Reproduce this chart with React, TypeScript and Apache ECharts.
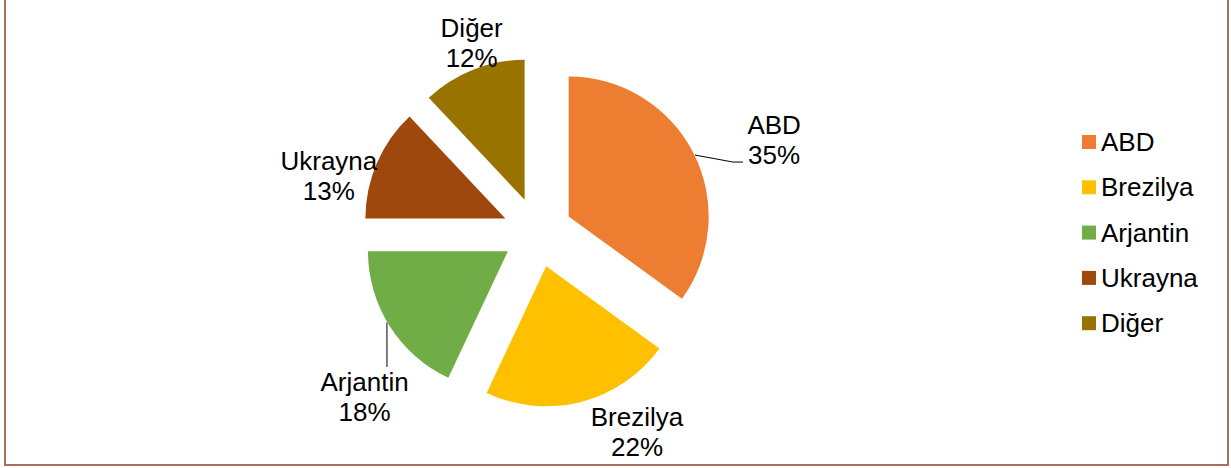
import React, { useEffect, useRef } from "react";
import * as echarts from "echarts";

const categories = ["ABD", "Brezilya", "Arjantin", "Ukrayna", "Diğer"];
const shares = [35, 22, 18, 13, 12];
const colors = ["#ED7D31", "#FFC000", "#70AD47", "#9E480E", "#997300"];
const showLeader = [true, false, true, false, false];

// label nudges (style only), relative to ECharts' own label placement
const labelNudge: Record<string, [number, number]> = {
  ABD: [53, -7.4],
  Brezilya: [36, 18.6],
  Arjantin: [2, 64.6],
  Ukrayna: [-20, 17.6],
  "Diğer": [20, -15.4],
};
// leader line shape (style only), relative to ECharts' own leader start point
const leaderShape: Record<string, number[][]> = {
  ABD: [[1.6, 2.1], [39.6, 9.1], [49.6, 9.1]],
  Arjantin: [[-2.8, -3.7], [-2.8, 40.8]],
};

export default function App() {
  const ref = useRef<HTMLDivElement>(null);
  useEffect(() => {
    document.body.style.margin = "0";
    const chart = echarts.init(ref.current!, null, { renderer: "svg" });
    const font = "Liberation Sans, Arial, sans-serif";
    chart.setOption({
      animation: false,
      backgroundColor: "#ffffff",
      legend: {
        orient: "vertical",
        left: 1082,
        top: 129,
        padding: 0,
        icon: "rect",
        itemWidth: 14,
        itemHeight: 14,
        itemGap: 19.3,
        selectedMode: false,
        textStyle: { fontFamily: font, fontSize: 26, lineHeight: 26, color: "#000" },
        data: categories,
      },
      graphic: [
        {
          type: "rect",
          shape: { x: 5, y: -5, width: 1223, height: 470 },
          style: { fill: "none", stroke: "#A5705F", lineWidth: 2 },
          silent: true,
        },
      ],
      series: [
        {
          type: "pie",
          center: [537.5, 232.4],
          radius: [0, 140],
          startAngle: 90,
          clockwise: true,
          selectedMode: "multiple",
          selectedOffset: 35,
          avoidLabelOverlap: false,
          emphasis: { disabled: true },
          select: { itemStyle: { borderWidth: 0 } },
          label: {
            show: true,
            position: "outside",
            formatter: "{b}\n{d}%",
            fontFamily: font,
            fontSize: 26,
            lineHeight: 30,
            color: "#000",
          },
          labelLine: { show: true, length: 12, length2: 12, lineStyle: { color: "#000", width: 1 } },
          labelLayout: (params: any) => {
            const key = categories[params.dataIndex];
            const n = labelNudge[key] || [0, 0];
            const out: any = { dx: n[0], dy: n[1], align: "center" };
            const shape = leaderShape[key];
            if (shape && params.labelLinePoints && params.labelLinePoints.length) {
              const p0 = params.labelLinePoints[0];
              out.labelLinePoints = shape.map((d) => [p0[0] + d[0], p0[1] + d[1]]);
            }
            return out;
          },
          data: categories.map((name, i) => ({
            name,
            value: shares[i],
            selected: true,
            itemStyle: { color: colors[i], borderWidth: 0 },
            labelLine: { show: showLeader[i] },
          })),
        },
      ],
    });
    return () => chart.dispose();
  }, []);
  return <div ref={ref} style={{ width: 1231, height: 468 }} />;
}
